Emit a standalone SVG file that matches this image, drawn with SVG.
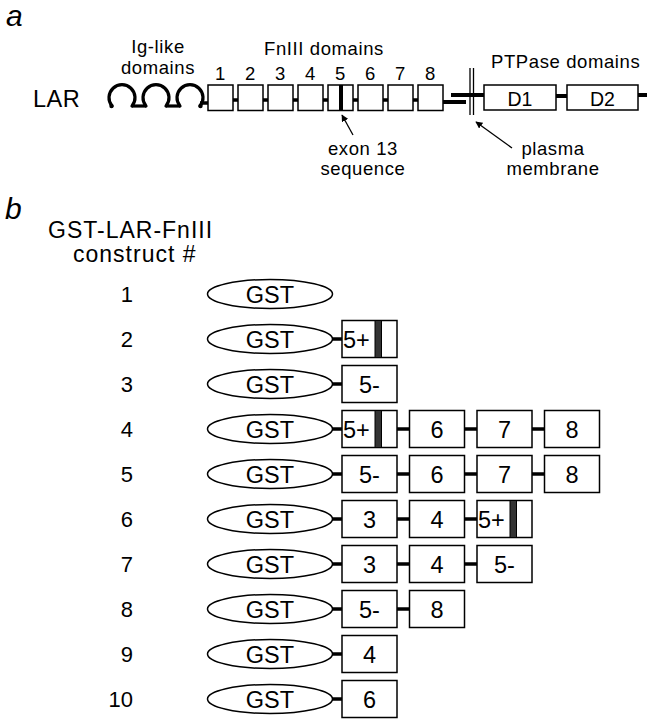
<svg xmlns="http://www.w3.org/2000/svg" width="647" height="720" viewBox="0 0 647 720">
<defs>
<style>
text{font-family:"Liberation Sans",Arial,Helvetica,sans-serif;fill:#000}
.panel{font-size:30px;font-style:italic}
.lab{font-size:18.5px;letter-spacing:0.6px}
.mid{text-anchor:middle}
.big{font-size:23.5px}
.hdr{font-size:23px;letter-spacing:1px}
.num{font-size:22px;text-anchor:end}
.bx{fill:#fff;stroke:#000;stroke-width:1.5}
.ell{fill:#fff;stroke:#000;stroke-width:1.5}
.thick{stroke:#000;stroke-width:4;fill:none}
.link{stroke:#000;stroke-width:3.5;fill:none}
.thin{stroke:#000;stroke-width:1.3;fill:none}
.arc{stroke:#000;stroke-width:3.2;fill:none;stroke-linecap:round}
.stripe{fill:#333;stroke:#000;stroke-width:1}
.black{fill:#000}
</style>
<marker id="ah" viewBox="0 0 10 10" refX="9" refY="5" markerWidth="7" markerHeight="7" orient="auto" markerUnits="userSpaceOnUse">
<path d="M0,0 L10,5 L0,10 z" fill="#000"/>
</marker>
</defs>

<!-- Panel labels -->
<text class="panel" x="6" y="26">a</text>
<text class="panel" x="5" y="219">b</text>

<g id="lar-label"><text class="big" x="33" y="107" style="letter-spacing:0.5px">LAR</text></g>

<g id="ig-label">
<text class="lab mid" x="158" y="53">Ig-like</text>
<text class="lab mid" x="158" y="74">domains</text>
</g>
<g id="fn-label"><text class="lab mid" x="324" y="55">FnIII domains</text></g>
<g id="ptp-label"><text class="lab" x="491" y="68">PTPase domains</text></g>
<g id="exon-label">
<text class="lab mid" x="363" y="155">exon 13</text>
<text class="lab mid" x="363" y="175">sequence</text>
</g>
<g id="membrane-label">
<text class="lab mid" x="553" y="155">plasma</text>
<text class="lab mid" x="553" y="175">membrane</text>
</g>

<g id="ig-domains">
<path class="arc" d="M112,106 A13 13 0 1 1 132,106"/>
<path class="arc" d="M146,106 A13 13 0 1 1 166,106"/>
<path class="arc" d="M180,106 A13 13 0 1 1 200,106"/>
<circle class="black" cx="111.5" cy="106" r="2.2"/>
<circle class="black" cx="200.5" cy="106" r="2.2"/>
</g>

<g id="fn-domains">
<rect class="bx" x="208" y="85" width="25" height="25.5"/>
<rect class="bx" x="238" y="85" width="25" height="25.5"/>
<rect class="bx" x="268" y="85" width="25" height="25.5"/>
<rect class="bx" x="298" y="85" width="25" height="25.5"/>
<rect class="bx" x="328" y="85" width="25" height="25.5"/>
<rect class="black" x="339" y="85" width="4" height="25.5"/>
<rect class="bx" x="358" y="85" width="25" height="25.5"/>
<rect class="bx" x="388" y="85" width="25" height="25.5"/>
<rect class="bx" x="418" y="85" width="25" height="25.5"/>
<text class="lab mid" x="220.5" y="80">1</text>
<text class="lab mid" x="250.5" y="80">2</text>
<text class="lab mid" x="280.5" y="80">3</text>
<text class="lab mid" x="310.5" y="80">4</text>
<text class="lab mid" x="340.5" y="80">5</text>
<text class="lab mid" x="370.5" y="80">6</text>
<text class="lab mid" x="400.5" y="80">7</text>
<text class="lab mid" x="430.5" y="80">8</text>
</g>

<g id="membrane">
<line class="thin" x1="470" y1="68" x2="470" y2="115"/>
<line class="thin" x1="473.5" y1="68" x2="473.5" y2="115"/>
</g>

<g id="ptp-domains">
<rect class="bx" x="484" y="85" width="72" height="25"/>
<rect class="bx" x="567" y="85" width="71" height="25"/>
<text class="big mid" x="520" y="106" style="font-size:19.5px">D1</text>
<text class="big mid" x="602.5" y="106" style="font-size:19.5px">D2</text>
</g>

<g id="connectors-a">
<line class="arc" x1="132" y1="106" x2="146" y2="106" style="stroke-linecap:butt"/>
<line class="arc" x1="166" y1="106" x2="180" y2="106" style="stroke-linecap:butt"/>
<line class="link" x1="200" y1="103" x2="208" y2="103"/>
<line class="link" x1="233" y1="100" x2="238" y2="100"/>
<line class="link" x1="263" y1="100" x2="268" y2="100"/>
<line class="link" x1="293" y1="100" x2="298" y2="100"/>
<line class="link" x1="323" y1="100" x2="328" y2="100"/>
<line class="link" x1="353" y1="100" x2="358" y2="100"/>
<line class="link" x1="383" y1="100" x2="388" y2="100"/>
<line class="link" x1="413" y1="100" x2="418" y2="100"/>
<line class="thick" x1="443" y1="102" x2="466" y2="102"/>
<line class="thick" x1="451" y1="95" x2="484" y2="95"/>
<line class="thick" x1="556" y1="96" x2="567" y2="96"/>
<line class="thick" x1="638" y1="95" x2="647" y2="95"/>
<line class="thin" x1="353" y1="135" x2="342" y2="115" marker-end="url(#ah)"/>
<line class="thin" x1="512" y1="148" x2="476" y2="122" marker-end="url(#ah)"/>
</g>

<g id="header-b">
<text class="hdr" x="48" y="238">GST-LAR-FnIII</text>
<text class="hdr" x="73" y="262">construct #</text>
</g>

<g id="row-numbers">
<text class="num" x="133" y="302">1</text>
<text class="num" x="133" y="347">2</text>
<text class="num" x="133" y="392">3</text>
<text class="num" x="133" y="437">4</text>
<text class="num" x="133" y="482">5</text>
<text class="num" x="133" y="527">6</text>
<text class="num" x="133" y="572">7</text>
<text class="num" x="133" y="617">8</text>
<text class="num" x="133" y="662">9</text>
<text class="num" x="133" y="707">10</text>
</g>

<g id="gst">
<ellipse class="ell" cx="270" cy="294" rx="62.5" ry="14.5"/>
<ellipse class="ell" cx="270" cy="339" rx="62.5" ry="14.5"/>
<ellipse class="ell" cx="270" cy="384" rx="62.5" ry="14.5"/>
<ellipse class="ell" cx="270" cy="429" rx="62.5" ry="14.5"/>
<ellipse class="ell" cx="270" cy="474" rx="62.5" ry="14.5"/>
<ellipse class="ell" cx="270" cy="519" rx="62.5" ry="14.5"/>
<ellipse class="ell" cx="270" cy="564" rx="62.5" ry="14.5"/>
<ellipse class="ell" cx="270" cy="609" rx="62.5" ry="14.5"/>
<ellipse class="ell" cx="270" cy="654" rx="62.5" ry="14.5"/>
<ellipse class="ell" cx="270" cy="699" rx="62.5" ry="14.5"/>
<text class="big mid" x="270" y="302.5">GST</text>
<text class="big mid" x="270" y="347.5">GST</text>
<text class="big mid" x="270" y="392.5">GST</text>
<text class="big mid" x="270" y="437.5">GST</text>
<text class="big mid" x="270" y="482.5">GST</text>
<text class="big mid" x="270" y="527.5">GST</text>
<text class="big mid" x="270" y="572.5">GST</text>
<text class="big mid" x="270" y="617.5">GST</text>
<text class="big mid" x="270" y="662.5">GST</text>
<text class="big mid" x="270" y="707.5">GST</text>
</g>

<g id="connectors-b">
<line class="link" x1="332" y1="339" x2="342" y2="339"/>
<line class="link" x1="332" y1="384" x2="342" y2="384"/>
<line class="link" x1="332" y1="429" x2="342" y2="429"/>
<line class="link" x1="397" y1="429" x2="409.5" y2="429"/>
<line class="link" x1="464.5" y1="429" x2="477" y2="429"/>
<line class="link" x1="532" y1="429" x2="544.5" y2="429"/>
<line class="link" x1="332" y1="474" x2="342" y2="474"/>
<line class="link" x1="397" y1="474" x2="409.5" y2="474"/>
<line class="link" x1="464.5" y1="474" x2="477" y2="474"/>
<line class="link" x1="532" y1="474" x2="544.5" y2="474"/>
<line class="link" x1="332" y1="519" x2="342" y2="519"/>
<line class="link" x1="397" y1="519" x2="409.5" y2="519"/>
<line class="link" x1="464.5" y1="519" x2="477" y2="519"/>
<line class="link" x1="332" y1="564" x2="342" y2="564"/>
<line class="link" x1="397" y1="564" x2="409.5" y2="564"/>
<line class="link" x1="464.5" y1="564" x2="477" y2="564"/>
<line class="link" x1="332" y1="609" x2="342" y2="609"/>
<line class="link" x1="397" y1="609" x2="409.5" y2="609"/>
<line class="link" x1="332" y1="654" x2="342" y2="654"/>
<line class="link" x1="332" y1="699" x2="342" y2="699"/>
</g>

<g id="row2">
<rect class="bx" x="342" y="320.5" width="55" height="37"/>
<rect class="stripe" x="375" y="320.5" width="6.5" height="37"/>
<text class="big" x="343" y="347.5">5+</text>
</g>
<g id="row3">
<rect class="bx" x="342" y="365.5" width="55" height="37"/>
<text class="big mid" x="369.5" y="392.5">5-</text>
</g>
<g id="row4">
<rect class="bx" x="342" y="410.5" width="55" height="37"/>
<rect class="stripe" x="375" y="410.5" width="6.5" height="37"/>
<text class="big" x="343" y="437.5">5+</text>
<rect class="bx" x="409.5" y="410.5" width="55" height="37"/>
<text class="big mid" x="437" y="437.5">6</text>
<rect class="bx" x="477" y="410.5" width="55" height="37"/>
<text class="big mid" x="504.5" y="437.5">7</text>
<rect class="bx" x="544.5" y="410.5" width="55" height="37"/>
<text class="big mid" x="572" y="437.5">8</text>
</g>
<g id="row5">
<rect class="bx" x="342" y="455.5" width="55" height="37"/>
<text class="big mid" x="369.5" y="482.5">5-</text>
<rect class="bx" x="409.5" y="455.5" width="55" height="37"/>
<text class="big mid" x="437" y="482.5">6</text>
<rect class="bx" x="477" y="455.5" width="55" height="37"/>
<text class="big mid" x="504.5" y="482.5">7</text>
<rect class="bx" x="544.5" y="455.5" width="55" height="37"/>
<text class="big mid" x="572" y="482.5">8</text>
</g>
<g id="row6">
<rect class="bx" x="342" y="500.5" width="55" height="37"/>
<text class="big mid" x="369.5" y="527.5">3</text>
<rect class="bx" x="409.5" y="500.5" width="55" height="37"/>
<text class="big mid" x="437" y="527.5">4</text>
<rect class="bx" x="477" y="500.5" width="55" height="37"/>
<rect class="stripe" x="510" y="500.5" width="6.5" height="37"/>
<text class="big" x="478" y="527.5">5+</text>
</g>
<g id="row7">
<rect class="bx" x="342" y="545.5" width="55" height="37"/>
<text class="big mid" x="369.5" y="572.5">3</text>
<rect class="bx" x="409.5" y="545.5" width="55" height="37"/>
<text class="big mid" x="437" y="572.5">4</text>
<rect class="bx" x="477" y="545.5" width="55" height="37"/>
<text class="big mid" x="504.5" y="572.5">5-</text>
</g>
<g id="row8">
<rect class="bx" x="342" y="590.5" width="55" height="37"/>
<text class="big mid" x="369.5" y="617.5">5-</text>
<rect class="bx" x="409.5" y="590.5" width="55" height="37"/>
<text class="big mid" x="437" y="617.5">8</text>
</g>
<g id="row9">
<rect class="bx" x="342" y="635.5" width="55" height="37"/>
<text class="big mid" x="369.5" y="662.5">4</text>
</g>
<g id="row10">
<rect class="bx" x="342" y="680.5" width="55" height="37"/>
<text class="big mid" x="369.5" y="707.5">6</text>
</g>
</svg>
